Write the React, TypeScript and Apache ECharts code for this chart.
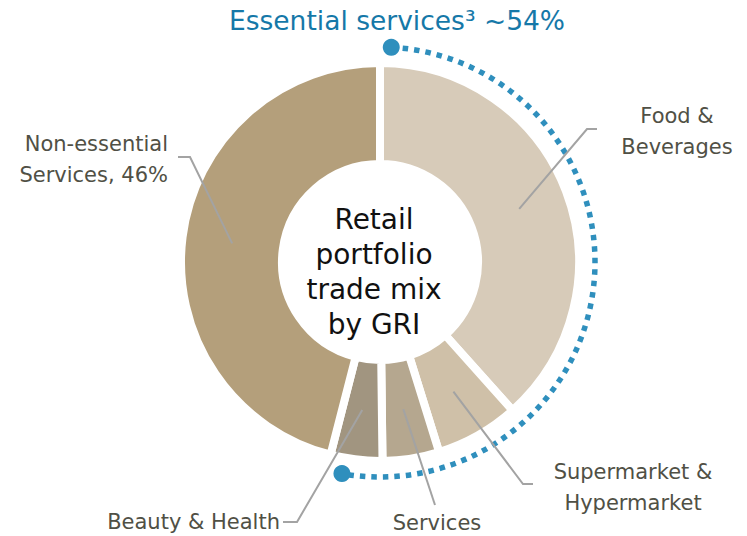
import React, { useEffect, useRef } from "react";
import * as echarts from "echarts";

const categories = ["Food & Beverages", "Supermarket & Hypermarket", "Services", "Beauty & Health", "Non-essential Services"];
const labels = ["Food &\nBeverages", "Supermarket &\nHypermarket", "Services", "Beauty & Health", "Non-essential\nServices, 46%"];
const values = [38.4, 6.8, 4.6, 4.2, 46];
const essential = [true, true, true, true, false];
const colors = ["#d7cbb9", "#cfc0a8", "#b5a78f", "#a19580", "#b49f7b"];
const headerText = "Essential services\u00b3 ~54%";
const centerText = "Retail\nportfolio\ntrade mix\nby GRI";

const CX = 380;
const CY = 262;
const FONT = "'DejaVu Sans', 'Open Sans', sans-serif";

// label anchors: [labelX, labelY, align, elbowX, elbowY, endX, endY]
const labelPlacement: [number, number, string, number, number, number, number][] = [
  [677, 131, "center", 587, 129, 597, 129],
  [633, 487, "center", 523, 484, 533, 484],
  [437, 523, "center", 435, 505, 435, 505],
  [280, 522, "right", 297, 522, 283, 522],
  [168, 159, "right", 190, 157, 178, 157],
];

export default function App() {
  const ref = useRef<HTMLDivElement>(null);
  useEffect(() => {
    document.body.style.margin = "0";
    const chart = echarts.init(ref.current!, null, { renderer: "svg" });
    const total = values.reduce((a, b) => a + b, 0);
    const mids: number[] = [];
    let acc = 0;
    values.forEach((v) => {
      mids.push(((acc + v / 2) / total) * 2 * Math.PI);
      acc += v;
    });
    const essentialShare = values.filter((_, i) => essential[i]).reduce((a, b) => a + b, 0) / total;
    const deg = Math.PI / 180;
    const arcR = 215;
    const startA = -Math.PI / 2 + 3 * deg;
    const endA = -Math.PI / 2 + essentialShare * 2 * Math.PI - 4.2 * deg;
    const innerLineR = 149;

    const leaderLines = labelPlacement.map((lp, i) => {
      const a = mids[i];
      return {
        type: "polyline",
        z: 10,
        shape: {
          points: [
            [CX + innerLineR * Math.sin(a), CY - innerLineR * Math.cos(a)],
            [lp[3], lp[4]],
            [lp[5], lp[6]],
          ],
        },
        style: { stroke: "#a3a3a3", lineWidth: 2, fill: null },
      };
    });

    chart.setOption({
      animation: false,
      graphic: [
        {
          type: "arc",
          z: 10,
          shape: { cx: CX, cy: CY, r: arcR, startAngle: startA, endAngle: endA, clockwise: true },
          style: { stroke: "#2f8fbd", lineWidth: 5.5, lineDash: [5.5, 6], fill: null },
        },
        {
          type: "circle",
          z: 10,
          shape: { cx: CX + arcR * Math.cos(startA), cy: CY + arcR * Math.sin(startA), r: 8.5 },
          style: { fill: "#2f8fbd" },
        },
        {
          type: "circle",
          z: 10,
          shape: { cx: CX + arcR * Math.cos(endA), cy: CY + arcR * Math.sin(endA), r: 8.5 },
          style: { fill: "#2f8fbd" },
        },
        ...leaderLines,
        {
          type: "text",
          z: 10,
          x: 397,
          y: 20,
          style: {
            text: headerText,
            fontSize: 26.5,
            fontFamily: FONT,
            fill: "#1578a8",
            textAlign: "center",
            textVerticalAlign: "middle",
          },
        },
        {
          type: "text",
          z: 10,
          x: 374,
          y: 272,
          style: {
            text: centerText,
            fontSize: 28,
            lineHeight: 35,
            fontFamily: FONT,
            fill: "#111111",
            textAlign: "center",
            textVerticalAlign: "middle",
          },
        },
      ],
      series: [
        {
          type: "pie",
          center: [CX, CY],
          radius: [98, 199],
          startAngle: 90,
          clockwise: true,
          avoidLabelOverlap: false,
          itemStyle: { borderColor: "#ffffff", borderWidth: 8 },
          label: {
            show: true,
            position: "outside",
            formatter: (p: any) => labels[p.dataIndex],
            fontSize: 21,
            lineHeight: 31,
            fontFamily: FONT,
            color: "#505045",
          },
          labelLine: { show: false },
          labelLayout: (params: any) => {
            const lp = labelPlacement[params.dataIndex];
            return { x: lp[0], y: lp[1], align: lp[2], verticalAlign: "middle" };
          },
          data: categories.map((c, i) => ({
            name: c,
            value: values[i],
            itemStyle: { color: colors[i] },
          })),
        },
      ],
    });
    return () => chart.dispose();
  }, []);
  return <div ref={ref} style={{ width: 747, height: 536 }} />;
}
